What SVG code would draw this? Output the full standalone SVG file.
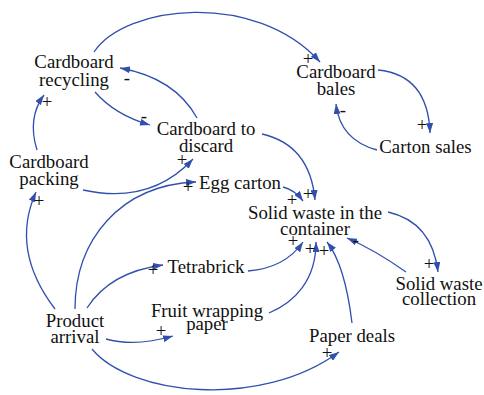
<svg xmlns="http://www.w3.org/2000/svg" width="484" height="395" viewBox="0 0 484 395" font-family="'Liberation Serif', 'DejaVu Serif', serif">
<style>
  text { font-family: 'Liberation Serif', 'DejaVu Serif', serif; font-size: 18.8px; fill: #111111; text-anchor: middle; }
  .c { fill: none; stroke: #3150ae; stroke-width: 1.3; marker-end: url(#ah); }
</style>
<defs>
  <marker id="ah" viewBox="0 0 10 7" refX="10" refY="3.5" markerWidth="10" markerHeight="7" markerUnits="userSpaceOnUse" orient="auto">
    <path d="M0,0 L10,3.5 L0,7 z" fill="#3150ae"/>
  </marker>
</defs>
<rect width="484" height="395" fill="#ffffff"/>
<g id="connectors">
  <path class="c" d="M94,52 C125,5 255,-10 320,62"/>
  <path class="c" d="M197,118 Q175,78 120,68"/>
  <path class="c" d="M95,92 Q115,115 150,125"/>
  <path class="c" d="M37,150 Q27,118 44,95"/>
  <path class="c" d="M83,190 Q150,205 193,159"/>
  <path class="c" d="M55,309 Q10,250 36,192"/>
  <path class="c" d="M75,309 C75,240 120,185 196,182"/>
  <path class="c" d="M87,308 Q110,272 163,265"/>
  <path class="c" d="M106,339 Q135,347 173,336"/>
  <path class="c" d="M92,349 C130,395 260,410 339,352"/>
  <path class="c" d="M262,134 Q310,145 315,200"/>
  <path class="c" d="M283,187 Q295,190 303,201"/>
  <path class="c" d="M248,271 Q285,268 303,242"/>
  <path class="c" d="M269,313 C295,302 316,280 316,242"/>
  <path class="c" d="M352,323 Q345,265 327,242"/>
  <path class="c" d="M388,212 Q432,222 438,272"/>
  <path class="c" d="M406,272 Q375,250 347,238"/>
  <path class="c" d="M378,70 Q428,75 430,133"/>
  <path class="c" d="M377,150 Q340,140 336,104"/>
  <g id="polarities">
    <text x="308" y="65">+</text>
    <text x="127" y="84">-</text>
    <text x="144" y="121.5">-</text>
    <text x="47" y="108">+</text>
    <text x="182" y="166">+</text>
    <text x="39" y="207">+</text>
    <text x="188" y="193">+</text>
    <text x="153" y="276">+</text>
    <text x="161" y="337">+</text>
    <text x="327" y="359">+</text>
    <text x="308" y="200">+</text>
    <text x="292" y="206">+</text>
    <text x="293" y="247">+</text>
    <text x="310" y="255">+</text>
    <text x="324" y="257">+</text>
    <text x="429" y="270">+</text>
    <text x="356" y="245.5">-</text>
    <text x="422" y="131">+</text>
    <text x="343" y="115.5">-</text>
  </g>
</g>
<g id="cardboard-recycling"><text x="74" y="68">Cardboard</text><text x="74" y="86">recycling</text></g>
<g id="cardboard-to-discard"><text x="206" y="135">Cardboard to</text><text x="206" y="152">discard</text></g>
<g id="cardboard-packing"><text x="49" y="168">Cardboard</text><text x="49" y="185">packing</text></g>
<g id="cardboard-bales"><text x="336" y="78">Cardboard</text><text x="336" y="95">bales</text></g>
<g id="carton-sales"><text x="425.5" y="153">Carton sales</text></g>
<g id="egg-carton"><text x="240" y="189">Egg carton</text></g>
<g id="solid-waste"><text x="315" y="219">Solid waste in the</text><text x="315" y="234.5">container</text></g>
<g id="tetrabrick"><text x="206" y="273">Tetrabrick</text></g>
<g id="fruit-wrapping-paper"><text x="207" y="316.5">Fruit wrapping</text><text x="207" y="329.5">paper</text></g>
<g id="product-arrival"><text x="75" y="326.5">Product</text><text x="75" y="342.5">arrival</text></g>
<g id="solid-waste-collection"><text x="439" y="290">Solid waste</text><text x="439" y="305">collection</text></g>
<g id="paper-deals"><text x="352" y="341.5">Paper deals</text></g>
</svg>
